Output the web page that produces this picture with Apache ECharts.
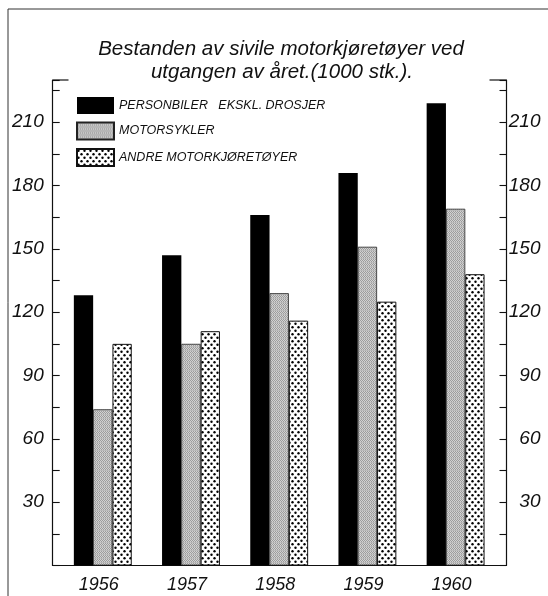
<!DOCTYPE html>
<html>
<head>
<meta charset="utf-8">
<script src="https://cdn.jsdelivr.net/npm/echarts@6/dist/echarts.min.js"></script>
<style>
  html, body { margin: 0; padding: 0; background: #fff; }
  #chart { width: 548px; height: 596px; }
</style>
</head>
<body>
<div id="chart"></div>
<script>
// Bestand av sivile motorkjøretøyer ved utgangen av året (1000 stk.)
const years = ['1956', '1957', '1958', '1959', '1960'];
const personbiler = [128, 147, 166, 186, 219];
const motorsykler = [74, 105, 129, 151, 169];
const andre = [105, 111, 116, 125, 138];
const seriesNames = ['PERSONBILER   EKSKL. DROSJER', 'MOTORSYKLER', 'ANDRE MOTORKJØRETØYER'];
const titleLines = ['Bestanden av sivile motorkjøretøyer ved', 'utgangen av året.(1000 stk.).'];
const yMax = 230;
const yStep = 15;
const yLabelStep = 30;

const ink = '#111';
const fontFamily = '"Liberation Sans", Arial, sans-serif';

// fine halftone grey used for the motorcycle bars
function greyPattern() {
  const c = document.createElement('canvas');
  c.width = 4; c.height = 4;
  const g = c.getContext('2d');
  g.fillStyle = '#d2d2d2';
  g.fillRect(0, 0, 4, 4);
  g.fillStyle = '#9c9c9c';
  for (let y = 0; y < 4; y++) {
    for (let x = 0; x < 4; x++) {
      if ((x + y) % 2 === 0) g.fillRect(x, y, 1, 1);
    }
  }
  g.fillStyle = '#bababa';
  g.fillRect(0, 2, 4, 1);
  return c;
}

// staggered black dots on white for the "other vehicles" bars
function dotPattern() {
  const c = document.createElement('canvas');
  c.width = 6; c.height = 7;
  const g = c.getContext('2d');
  g.fillStyle = '#fff';
  g.fillRect(0, 0, 6, 7);
  g.fillStyle = '#000';
  [[1.5, 1.75], [4.5, 5.25]].forEach(function (p) {
    g.beginPath();
    g.arc(p[0], p[1], 1.2, 0, Math.PI * 2);
    g.fill();
  });
  return c;
}

const greyFill = { image: greyPattern(), repeat: 'repeat' };
const dotFill = { image: dotPattern(), repeat: 'repeat' };

const chart = echarts.init(document.getElementById('chart'), null, { renderer: 'canvas' });

const plotTop = 80;
const plotHeight = 485.5;

function tickLabel(v) {
  return (v % yLabelStep === 0 && v > 0 && v < yMax) ? String(v) : '';
}

const axisLabelStyle = {
  fontFamily: fontFamily,
  fontStyle: 'italic',
  fontSize: 19,
  color: ink
};

const option = {
  animation: false,
  backgroundColor: '#fff',
  grid: [
    { left: 58.7, top: plotTop, width: 441, height: plotHeight, containLabel: false, outerBoundsMode: 'none' },
    { left: 52.7, top: plotTop, width: 453.8, height: plotHeight, containLabel: false, outerBoundsMode: 'none' }
  ],
  xAxis: [
    {
      type: 'category',
      gridIndex: 0,
      data: years,
      axisLine: { show: false },
      axisTick: { show: false },
      axisLabel: Object.assign({ margin: 10, padding: [0, 8, 0, 0] }, axisLabelStyle, { fontSize: 18 })
    },
    {
      type: 'value',
      gridIndex: 1,
      min: 0, max: 1,
      axisLine: { show: true, lineStyle: { color: ink, width: 1.2 } },
      axisTick: { show: false },
      axisLabel: { show: false },
      splitLine: { show: false }
    }
  ],
  yAxis: [
    {
      type: 'value', gridIndex: 1, position: 'left',
      min: 0, max: yMax, interval: yStep,
      axisLine: { show: true, lineStyle: { color: ink, width: 1.2 } },
      axisTick: { show: true, inside: true, length: 7, lineStyle: { color: ink, width: 1.1 } },
      axisLabel: Object.assign({ margin: 9, formatter: tickLabel }, axisLabelStyle),
      splitLine: { show: false }
    },
    {
      type: 'value', gridIndex: 1, position: 'right',
      min: 0, max: yMax, interval: yStep,
      axisLine: { show: true, lineStyle: { color: ink, width: 1.2 } },
      axisTick: { show: true, inside: true, length: 7, lineStyle: { color: ink, width: 1.1 } },
      axisLabel: Object.assign({ margin: 34, align: 'right', formatter: tickLabel }, axisLabelStyle),
      splitLine: { show: false }
    },
    {
      type: 'value', gridIndex: 0,
      min: 0, max: yMax,
      show: false
    }
  ],
  legend: {
    orient: 'vertical',
    left: 71,
    top: 92,
    itemWidth: 37,
    itemHeight: 17,
    itemGap: 7.5,
    icon: 'rect',
    textStyle: {
      fontFamily: fontFamily,
      fontStyle: 'italic',
      fontSize: 12.5,
      color: ink
    },
    data: seriesNames
  },
  graphic: [
    // outer frame (left and top edges)
    { type: 'line', shape: { x1: 8, y1: 9, x2: 8, y2: 596 }, style: { stroke: '#333', lineWidth: 1 } },
    { type: 'line', shape: { x1: 8, y1: 9, x2: 548, y2: 9 }, style: { stroke: '#333', lineWidth: 1 } },
    // top corner stubs of the axis frame
    { type: 'line', shape: { x1: 52.7, y1: plotTop, x2: 68.5, y2: plotTop }, style: { stroke: ink, lineWidth: 1.2 } },
    { type: 'line', shape: { x1: 489.5, y1: plotTop, x2: 506.5, y2: plotTop }, style: { stroke: ink, lineWidth: 1.2 } },
    {
      type: 'text', x: 281, y: 49,
      style: { text: titleLines[0], fontFamily: fontFamily, fontStyle: 'italic', fontSize: 20.5, fill: ink, align: 'center', verticalAlign: 'middle' }
    },
    {
      type: 'text', x: 282, y: 72,
      style: { text: titleLines[1], fontFamily: fontFamily, fontStyle: 'italic', fontSize: 20.5, fill: ink, align: 'center', verticalAlign: 'middle' }
    }
  ],
  series: [
    {
      name: seriesNames[0], type: 'bar', xAxisIndex: 0, yAxisIndex: 2,
      data: personbiler, barWidth: 19.3, barGap: '0%',
      itemStyle: { color: '#000' }
    },
    {
      name: seriesNames[1], type: 'bar', xAxisIndex: 0, yAxisIndex: 2,
      data: motorsykler, barWidth: 19.3, barGap: '0%',
      itemStyle: { color: greyFill, borderColor: '#222', borderWidth: 0.8 }
    },
    {
      name: seriesNames[2], type: 'bar', xAxisIndex: 0, yAxisIndex: 2,
      data: andre, barWidth: 19.3, barGap: '0%',
      itemStyle: { color: dotFill, borderColor: '#111', borderWidth: 1 }
    }
  ]
};

chart.setOption(option);
</script>
</body>
</html>
